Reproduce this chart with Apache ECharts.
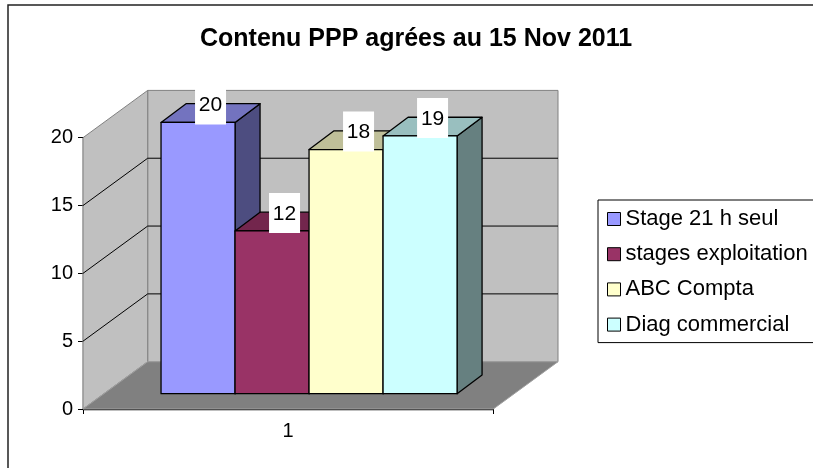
<!DOCTYPE html>
<html lang="fr">
<head>
    <meta charset="UTF-8">
    <title>Contenu PPP</title>
    <script src="https://cdn.jsdelivr.net/npm/echarts@6/dist/echarts.min.js"></script>
    <style>
        html, body { margin: 0; padding: 0; background: #fff; }
        #chart { width: 813px; height: 468px; }
    </style>
</head>
<body>
<div id="chart"></div>
<script>
    // données
    var categories = ['1'];
    var seriesNames = ['Stage 21 h seul', 'stages exploitation', 'ABC Compta', 'Diag commercial'];
    var values = [20, 12, 18, 19];
    var yTicks = [0, 5, 10, 15, 20];

    // couleurs façon Excel : face, dessus, côté
    var faceColors = ['#9999FF', '#993366', '#FFFFCC', '#CCFFFF'];
    var topColors = ['#7373BF', '#73264D', '#BFBF99', '#99BFBF'];
    var sideColors = ['#4D4D80', '#4D1A33', '#808066', '#668080'];

    var FONT = "'Liberation Sans', Arial, sans-serif";
    // profondeur du décor (murs) et des barres, en pixels
    var DX = 64.7, DY = 47.3;
    var BX = 20.9, BY = 15.3;
    var BDX = 25, BDY = 18.7;
    var GROUP = 0.7215;

    function renderWalls(params, api) {
        var p0 = api.coord([0, yTicks[0]]);
        var pTop = api.coord([0, yTicks[yTicks.length - 1]]);
        var W = api.size([1, 0])[0];
        var xl = p0[0] - W / 2, xr = p0[0] + W / 2;
        var yb = p0[1], yt = pTop[1];
        var children = [];
        // mur du fond
        children.push({
            type: 'polygon', z2: 1,
            shape: {points: [[xl + DX, yt - DY], [xr + DX, yt - DY], [xr + DX, yb - DY], [xl + DX, yb - DY]]},
            style: {fill: '#C0C0C0', stroke: '#808080', lineWidth: 1}
        });
        // mur de gauche
        children.push({
            type: 'polygon', z2: 1,
            shape: {points: [[xl, yt], [xl + DX, yt - DY], [xl + DX, yb - DY], [xl, yb]]},
            style: {fill: '#C0C0C0', stroke: '#808080', lineWidth: 1}
        });
        // sol
        children.push({
            type: 'polygon', z2: 1,
            shape: {points: [[xl, yb], [xr, yb], [xr + DX, yb - DY], [xl + DX, yb - DY]]},
            style: {fill: '#808080', stroke: '#A0A0A0', lineWidth: 1}
        });
        // quadrillage
        for (var i = 1; i < yTicks.length - 1; i++) {
            var y = api.coord([0, yTicks[i]])[1];
            children.push({
                type: 'polyline', z2: 2,
                shape: {points: [[xl, y], [xl + DX, y - DY], [xr + DX, y - DY]]},
                style: {fill: null, stroke: '#000', lineWidth: 1}
            });
        }
        return {type: 'group', children: children};
    }

    function makeBarRenderer(idx) {
        return function (params, api) {
            var v = api.value(1);
            var c = api.coord([0, v]);
            var b = api.coord([0, 0]);
            var W = api.size([1, 0])[0];
            var groupW = W * GROUP;
            var barW = groupW / seriesNames.length;
            var x0 = c[0] - groupW / 2 + idx * barW + BX;
            var x1 = x0 + barW;
            var yt = c[1] - BY, yb = b[1] - BY;
            var base = 10 + idx * 10;
            var edge = {stroke: '#000', lineWidth: 1.3, lineJoin: 'round'};
            var lx = x0 + barW / 2 + BDX / 2;
            return {
                type: 'group',
                children: [
                    {
                        type: 'polygon', z2: base,
                        shape: {points: [[x1, yt], [x1 + BDX, yt - BDY], [x1 + BDX, yb - BDY], [x1, yb]]},
                        style: Object.assign({fill: sideColors[idx]}, edge)
                    },
                    {
                        type: 'polygon', z2: base + 1,
                        shape: {points: [[x0, yt], [x1, yt], [x1 + BDX, yt - BDY], [x0 + BDX, yt - BDY]]},
                        style: Object.assign({fill: topColors[idx]}, edge)
                    },
                    {
                        type: 'rect', z2: base + 2,
                        shape: {x: x0, y: yt, width: barW, height: yb - yt},
                        style: Object.assign({fill: faceColors[idx]}, edge)
                    },
                    {
                        type: 'rect', z2: 200,
                        shape: {x: lx - 15.5, y: yt + 2 - 40, width: 31, height: 40},
                        style: {fill: '#fff', stroke: null}
                    },
                    {
                        type: 'text', z2: 201,
                        style: {
                            x: lx, y: yt + 2 - 19, text: String(v),
                            fill: '#000', font: '21px ' + FONT,
                            align: 'center', verticalAlign: 'middle'
                        }
                    }
                ]
            };
        };
    }

    var series = [{
        type: 'custom',
        name: 'murs',
        coordinateSystem: 'cartesian2d',
        clip: false,
        silent: true,
        z: 1,
        data: [[0, 0]],
        renderItem: renderWalls
    }];
    for (var i = 0; i < seriesNames.length; i++) {
        series.push({
            type: 'custom',
            name: seriesNames[i],
            coordinateSystem: 'cartesian2d',
            clip: false,
            silent: true,
            z: 2,
            itemStyle: {color: faceColors[i]},
            data: [[0, values[i]]],
            renderItem: makeBarRenderer(i)
        });
    }

    var chart = echarts.init(document.getElementById('chart'));
    chart.setOption({
        animation: false,
        backgroundColor: '#fff',
        textStyle: {fontFamily: FONT},
        title: {
            text: 'Contenu PPP agrées au 15 Nov 2011',
            left: 195,
            top: 22,
            textStyle: {fontSize: 25, fontWeight: 'bold', color: '#000', fontFamily: FONT}
        },
        graphic: [{
            type: 'rect',
            shape: {x: 8, y: 5, width: 830, height: 480},
            style: {fill: null, stroke: '#222', lineWidth: 1.5},
            silent: true,
            z: 0
        }],
        legend: {
            data: seriesNames,
            orient: 'vertical',
            left: 598,
            top: 200,
            padding: [8, 20, 7, 9],
            itemGap: 13.2,
            itemWidth: 13,
            itemHeight: 13,
            icon: 'rect',
            borderColor: '#000',
            borderWidth: 1,
            selectedMode: false,
            itemStyle: {borderColor: '#000', borderWidth: 1},
            textStyle: {fontSize: 22, color: '#000', fontFamily: FONT}
        },
        grid: {left: 83, right: 319.7, top: 137.7, bottom: 59, containLabel: false},
        xAxis: {
            type: 'category',
            data: categories,
            axisLine: {lineStyle: {color: '#000', width: 1.3}},
            axisTick: {show: true, length: 5, lineStyle: {color: '#000'}},
            axisLabel: {fontSize: 20, color: '#000', margin: 12, fontFamily: FONT},
            splitLine: {show: false}
        },
        yAxis: {
            type: 'value',
            min: 0,
            max: 20,
            interval: 5,
            axisLine: {show: true, lineStyle: {color: '#000', width: 1.3}},
            axisTick: {show: true, length: 5, lineStyle: {color: '#000'}},
            axisLabel: {fontSize: 20, color: '#000', margin: 10, fontFamily: FONT},
            splitLine: {show: false}
        },
        series: series
    });
</script>
</body>
</html>
